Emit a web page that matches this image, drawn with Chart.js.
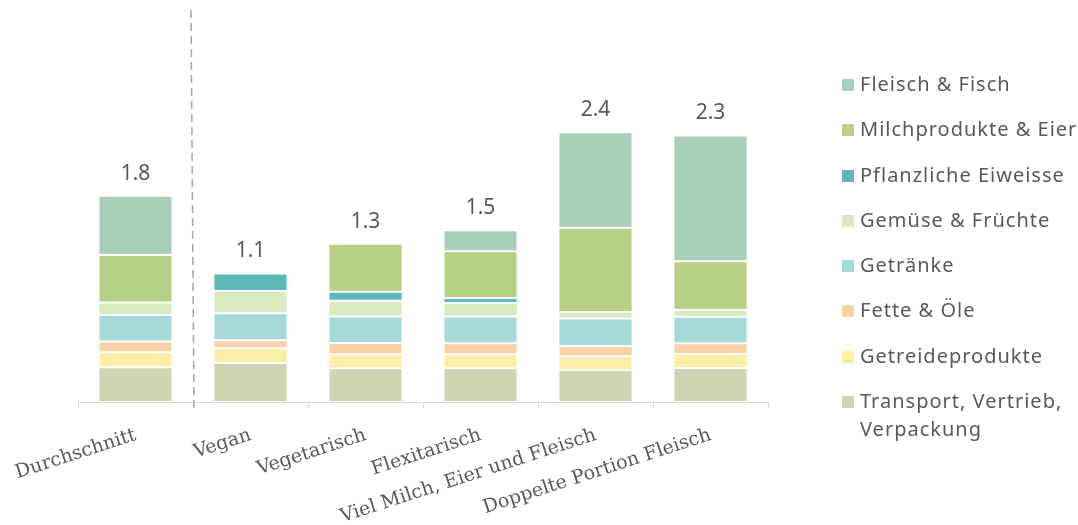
<!DOCTYPE html>
<html>
<head>
<meta charset="utf-8">
<script src="https://cdn.jsdelivr.net/npm/chart.js@4"></script>
<style>
  html, body { margin: 0; padding: 0; background: #fff; }
  #wrap { position: relative; width: 1078px; height: 525px; }
  #legend { position: absolute; left: 842px; top: 70px; font-family: "Noto Sans", sans-serif; font-size: 20px; color: #595959; }
  .item { display: flex; align-items: flex-start; height: 45.3px; letter-spacing: 1px; }
  .box { width: 12px; height: 12px; margin-top: 9px; margin-right: 6px; flex: none; }
  .txt { line-height: 28px; }
</style>
</head>
<body>
<div id="wrap">
  <canvas id="bar-chart" width="1078" height="525"></canvas>
  <div id="legend"></div>
</div>
<script>
const categories = ['Durchschnitt', 'Vegan', 'Vegetarisch', 'Flexitarisch', 'Viel Milch, Eier und Fleisch', 'Doppelte Portion Fleisch'];
const totals = ['1.8', '1.1', '1.3', '1.5', '2.4', '2.3'];

const transport = [0.304, 0.342, 0.295, 0.295, 0.281, 0.298];
const getreide = [0.132, 0.129, 0.123, 0.123, 0.120, 0.123];
const fette = [0.094, 0.070, 0.099, 0.096, 0.090, 0.094];
const getraenke = [0.231, 0.237, 0.232, 0.234, 0.240, 0.231];
const gemuese = [0.111, 0.193, 0.137, 0.119, 0.058, 0.059];
const pflanzlich = [0, 0.155, 0.079, 0.044, 0, 0];
const milch = [0.415, 0, 0.421, 0.410, 0.737, 0.427];
const fleisch = [0.520, 0, 0, 0.182, 0.837, 1.102];

const series = [
    { label: 'Transport, Vertrieb, Verpackung', lines: ['Transport, Vertrieb,', 'Verpackung'], data: transport, color: '#d1d4b3' },
    { label: 'Getreideprodukte', data: getreide, color: '#fbeea6' },
    { label: 'Fette & Öle', data: fette, color: '#f9d1a7' },
    { label: 'Getränke', data: getraenke, color: '#a7d9d9' },
    { label: 'Gemüse & Früchte', data: gemuese, color: '#d8ebbf' },
    { label: 'Pflanzliche Eiweisse', data: pflanzlich, color: '#5bb9b7' },
    { label: 'Milchprodukte & Eier', data: milch, color: '#b6d186' },
    { label: 'Fleisch & Fisch', data: fleisch, color: '#a8cfb8' }
];

const textColor = '#595959';

// dashed separator after "Durchschnitt" + totals above the stacks
const extras = {
    id: 'extras',
    afterDatasetsDraw(chart) {
        const ctx = chart.ctx;
        const x = chart.scales.x;
        const y = chart.scales.y;

        const sepX = (x.getPixelForTick(0) + x.getPixelForTick(1)) / 2 - 2;
        ctx.save();
        ctx.strokeStyle = '#a6a6a6';
        ctx.lineWidth = 1.5;
        ctx.setLineDash([8, 5]);
        ctx.beginPath();
        ctx.moveTo(sepX, 10);
        ctx.lineTo(sepX + 3, y.bottom + 6);
        ctx.stroke();
        ctx.restore();

        ctx.save();
        ctx.fillStyle = textColor;
        ctx.font = '21px "Noto Sans", sans-serif';
        ctx.textAlign = 'center';
        ctx.textBaseline = 'middle';
        categories.forEach((c, i) => {
            let sum = 0;
            series.forEach(s => { sum += s.data[i]; });
            ctx.fillText(totals[i], x.getPixelForTick(i), y.getPixelForValue(sum) - 22);
        });
        ctx.restore();
    }
};

const ctx = document.getElementById('bar-chart').getContext('2d');
const myChart = new Chart(ctx, {
    type: 'bar',
    data: {
        labels: categories,
        datasets: series.map(s => ({
            label: s.label,
            data: s.data,
            backgroundColor: s.color,
            borderColor: 'rgba(255,255,255,0.3)',
            borderWidth: 1,
            borderSkipped: false,
            barPercentage: 0.645,
            categoryPercentage: 1
        }))
    },
    options: {
        responsive: false,
        animation: false,
        layout: { padding: { left: 78, right: 310, top: 8, bottom: 0 } },
        plugins: {
            legend: { display: false },
            tooltip: { enabled: false }
        },
        scales: {
            x: {
                stacked: true,
                grid: { display: true, drawOnChartArea: false, drawTicks: true, tickLength: 6, color: '#d9d9d9' },
                border: { display: true, color: '#d9d9d9' },
                ticks: {
                    color: textColor,
                    font: { family: '"DejaVu Serif", serif', size: 19 },
                    minRotation: 18,
                    maxRotation: 18,
                    autoSkip: false,
                    padding: 16
                },
                afterFit: s => {
                    s.height = 123;
                    s.paddingLeft = 0;
                    s.paddingRight = 0;
                }
            },
            y: {
                stacked: true,
                display: false,
                min: 0,
                max: 3.45
            }
        }
    },
    plugins: [extras]
});

// legend, top entry = last stacked series
const legend = document.getElementById('legend');
series.slice().reverse().forEach(s => {
    const item = document.createElement('div');
    item.className = 'item';
    const box = document.createElement('div');
    box.className = 'box';
    box.style.background = s.color;
    const txt = document.createElement('div');
    txt.className = 'txt';
    txt.innerHTML = (s.lines || [s.label]).join('<br>');
    item.appendChild(box);
    item.appendChild(txt);
    legend.appendChild(item);
});
</script>
</body>
</html>
